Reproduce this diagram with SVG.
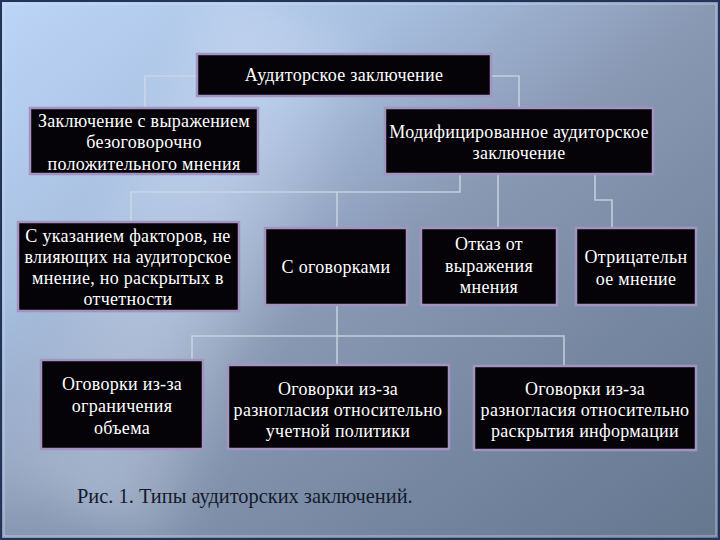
<svg xmlns="http://www.w3.org/2000/svg" width="720" height="540" viewBox="0 0 720 540">
<defs>
<linearGradient id="bg" x1="0" y1="0" x2="1" y2="1">
<stop offset="0" stop-color="#bcd5f6"/>
<stop offset="0.28" stop-color="#a8bfe0"/>
<stop offset="0.5" stop-color="#8999b4"/>
<stop offset="0.75" stop-color="#7586a0"/>
<stop offset="1" stop-color="#65778f"/>
</linearGradient>
<linearGradient id="streak" x1="0" y1="0" x2="1" y2="0">
<stop offset="0" stop-color="#ffffff" stop-opacity="0"/>
<stop offset="0.5" stop-color="#dbe8ff" stop-opacity="0.35"/>
<stop offset="1" stop-color="#ffffff" stop-opacity="0"/>
</linearGradient>
<filter id="blur" x="-20%" y="-20%" width="140%" height="140%"><feGaussianBlur stdDeviation="20"/></filter>
</defs>
<style>
.box{fill:#050308;stroke:#a493c0;stroke-width:2.5}
.t{font-family:"Liberation Serif","Times New Roman",serif;font-size:18px;letter-spacing:0.3px;fill:#ffffff;text-anchor:middle}
.c{fill:none;stroke:#cfd7e3;stroke-width:1.6;stroke-opacity:0.85}
.cap{font-family:"Liberation Serif","Times New Roman",serif;font-size:20.4px;fill:#141a2a}
</style>
<rect x="0" y="0" width="720" height="540" fill="url(#bg)"/>
<polygon points="120,0 300,0 260,540 60,540" fill="url(#streak)" filter="url(#blur)" transform="rotate(20 200 270)"/>
<rect x="1" y="1" width="718" height="538" fill="none" stroke="#22345a" stroke-width="2"/>
<rect x="4" y="4" width="712" height="532" fill="none" stroke="#d6e2f4" stroke-width="1" stroke-opacity="0.6"/>

<g id="connectors">
<polyline class="c" points="198,76 145,76 145,108"/>
<polyline class="c" points="491,76 519,76 519,108"/>
<polyline class="c" points="460,174 460,192 131,192 131,222"/>
<line class="c" x1="337" y1="192" x2="337" y2="228"/>
<line class="c" x1="498" y1="174" x2="498" y2="228"/>
<polyline class="c" points="595,174 595,200 612,200 612,228"/>
<line class="c" x1="337" y1="305" x2="337" y2="365"/>
<polyline class="c" points="192,360 192,336 564,336 564,365"/>
</g>

<g id="n-top"><rect class="box" x="197" y="54" width="294" height="42"/>
<text class="t" x="344" y="81">Аудиторское заключение</text></g>

<g id="n-unmod"><rect class="box" x="30" y="108" width="228" height="66"/>
<text class="t" x="144" y="127">Заключение с выражением</text>
<text class="t" x="144" y="148">безоговорочно</text>
<text class="t" x="144" y="170">положительного мнения</text></g>

<g id="n-mod"><rect class="box" x="385" y="108" width="268" height="66"/>
<text class="t" x="519" y="138">Модифицированное аудиторское</text>
<text class="t" x="519" y="159">заключение</text></g>

<g id="n-factors"><rect class="box" x="18" y="222" width="221" height="89"/>
<text class="t" x="128" y="242">С указанием факторов, не</text>
<text class="t" x="128" y="263">влияющих на аудиторское</text>
<text class="t" x="128" y="284">мнение, но раскрытых в</text>
<text class="t" x="128" y="305">отчетности</text></g>

<g id="n-reserv"><rect class="box" x="265" y="228" width="142" height="77"/>
<text class="t" x="336" y="273">С оговорками</text></g>

<g id="n-refusal"><rect class="box" x="421" y="228" width="136" height="77"/>
<text class="t" x="489" y="250">Отказ от</text>
<text class="t" x="489" y="272">выражения</text>
<text class="t" x="489" y="293">мнения</text></g>

<g id="n-negative"><rect class="box" x="576" y="228" width="120" height="77"/>
<text class="t" x="636" y="263">Отрицательн</text>
<text class="t" x="636" y="285">ое мнение</text></g>

<g id="n-scope"><rect class="box" x="41" y="360" width="162" height="89"/>
<text class="t" x="122" y="390">Оговорки из-за</text>
<text class="t" x="122" y="412">ограничения</text>
<text class="t" x="122" y="434">объема</text></g>

<g id="n-policy"><rect class="box" x="228" y="365" width="221" height="84"/>
<text class="t" x="338" y="395">Оговорки из-за</text>
<text class="t" x="338" y="416">разногласия относительно</text>
<text class="t" x="338" y="437">учетной политики</text></g>

<g id="n-disclosure"><rect class="box" x="474" y="366" width="222" height="84"/>
<text class="t" x="585" y="395">Оговорки из-за</text>
<text class="t" x="585" y="416">разногласия относительно</text>
<text class="t" x="585" y="437">раскрытия информации</text></g>

<text class="cap" x="77" y="503">Рис. 1. Типы аудиторских заключений.</text>
</svg>
